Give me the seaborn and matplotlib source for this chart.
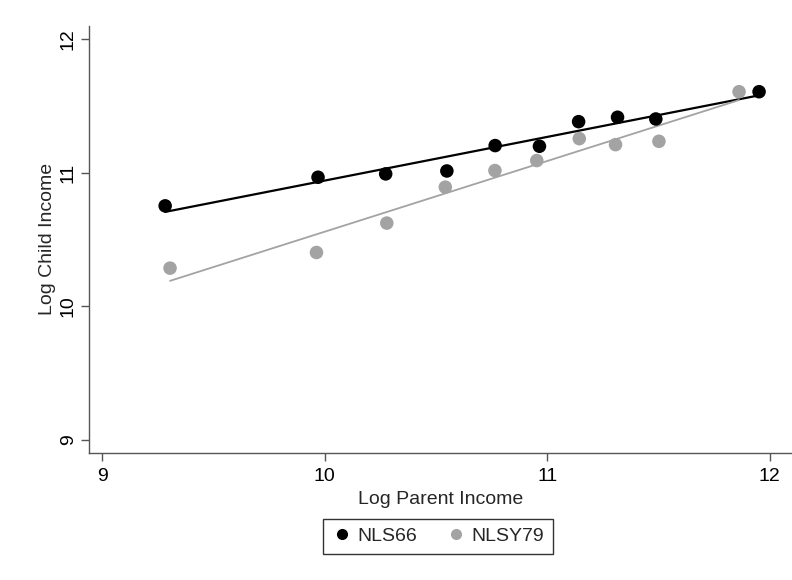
import numpy as np
import pandas as pd
import matplotlib
matplotlib.use("Agg")
import matplotlib.pyplot as plt
import seaborn as sns
from matplotlib.lines import Line2D

# Binned means of log parent income vs. log child income
nls66_parent = [9.283, 9.970, 10.274, 10.549, 10.766, 10.965, 11.141, 11.316, 11.488, 11.952]
nls66_child = [10.752, 10.966, 10.991, 11.013, 11.203, 11.198, 11.382, 11.415, 11.402, 11.606]
nlsy79_parent = [9.305, 9.963, 10.279, 10.542, 10.765, 10.953, 11.144, 11.307, 11.502, 11.862]
nlsy79_child = [10.286, 10.403, 10.623, 10.892, 11.016, 11.091, 11.255, 11.210, 11.235, 11.606]

series_names = ["NLS66", "NLSY79"]
series_colors = ["#000000", "#a3a3a3"]
x_ticks = [9, 10, 11, 12]
y_ticks = [9, 10, 11, 12]

df = pd.concat([
    pd.DataFrame({"parent": nls66_parent, "child": nls66_child, "cohort": series_names[0]}),
    pd.DataFrame({"parent": nlsy79_parent, "child": nlsy79_child, "cohort": series_names[1]}),
], ignore_index=True)

sns.set_style("white")
plt.rcParams["font.family"] = ["Liberation Sans", "DejaVu Sans"]

fig = plt.figure(figsize=(7.92, 5.8), dpi=100)
ax = fig.add_axes([0.113, 0.2195, 0.887, 0.7355])

palette = dict(zip(series_names, series_colors))
line_widths = {"NLS66": 1.6, "NLSY79": 1.3}
for name in series_names:
    sub = df[df["cohort"] == name]
    sns.regplot(data=sub, x="parent", y="child", ax=ax, scatter=False, ci=None,
                color=palette[name], line_kws={"linewidth": line_widths[name], "zorder": 2})
sns.scatterplot(data=df, x="parent", y="child", hue="cohort", palette=palette,
                s=95, edgecolor="none", ax=ax, legend=False, zorder=3)

ax.set_xlim(8.943, 12.1)
ax.set_ylim(8.905, 12.097)
ax.set_xticks(x_ticks)
ax.set_yticks(y_ticks)
ax.set_xticklabels([str(v) for v in x_ticks], fontsize=14)
ax.set_yticklabels([str(v) for v in y_ticks], fontsize=14, rotation=90, va="center")
ax.tick_params(axis="both", which="major", bottom=True, left=True, direction="out",
               length=6, width=1, color="#555555", labelcolor="black")
ax.tick_params(axis="x", pad=5)
ax.tick_params(axis="y", pad=3)

for side in ["top", "right"]:
    ax.spines[side].set_visible(False)
for side in ["left", "bottom"]:
    ax.spines[side].set_color("#555555")
    ax.spines[side].set_linewidth(1.0)

ax.set_xlabel("Log Parent Income", fontsize=14, labelpad=4)
ax.set_ylabel("Log Child Income", fontsize=14, labelpad=3)

handles = [Line2D([0], [0], marker="o", linestyle="none", markersize=8,
                  markerfacecolor=c, markeredgecolor="none") for c in series_colors]
leg = fig.legend(handles, series_names, loc="center", bbox_to_anchor=(0.553, 0.0753),
                 ncol=2, frameon=True, fontsize=14, handletextpad=0.3,
                 columnspacing=1.5, borderpad=0.45, handlelength=1.0, fancybox=False)
leg.get_frame().set_edgecolor("black")
leg.get_frame().set_linewidth(1.0)

fig.savefig("out.png", dpi=100)
